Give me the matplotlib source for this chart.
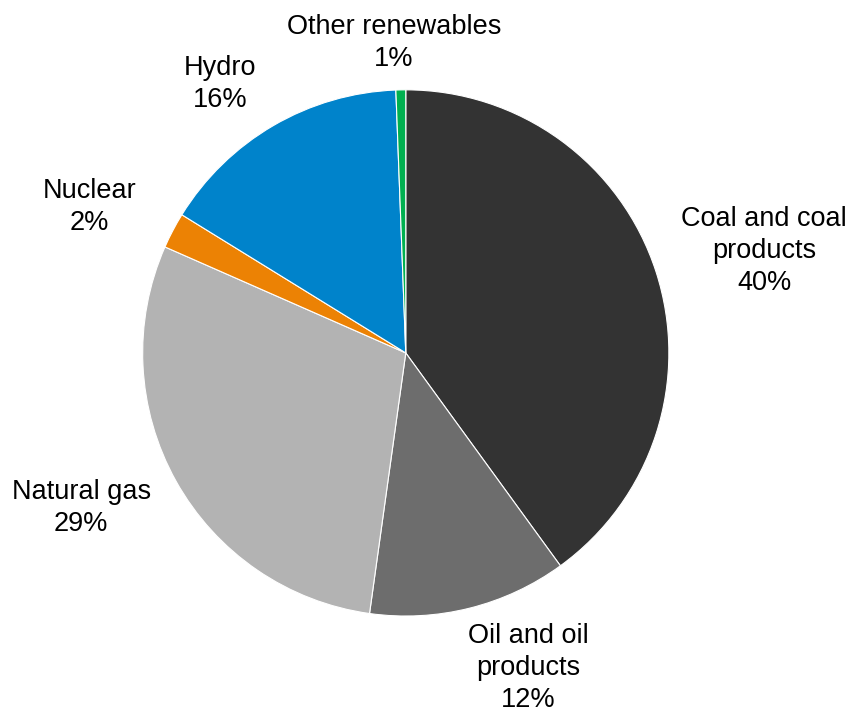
import matplotlib.pyplot as plt
import numpy as np

plt.rcParams['font.family'] = ['Liberation Sans', 'DejaVu Sans']

# Shares of the energy mix (%), clockwise from the top
sources = ['Coal and coal\nproducts', 'Oil and oil\nproducts', 'Natural gas',
           'Nuclear', 'Hydro', 'Other renewables']
shares = [40.0, 12.2, 29.4, 2.2, 15.6, 0.6]
pct_labels = ['40%', '12%', '29%', '2%', '16%', '1%']
colors = ['#333333', '#6d6d6d', '#b3b3b3', '#ec8204', '#0083cb', '#00b050']

# label placement: distance from centre (radii) and angle nudge from the wedge middle (deg)
label_dist = [1.416, 1.286, 1.368, 1.323, 1.243, 1.177]
label_nudge = [-2.2, 7.2, -3.6, 3.0, 4.4, 1.1]

fig = plt.figure(figsize=(8.48, 7.13), dpi=100)
ax = fig.add_axes([0.168, 0.136, 0.621, 0.738])

wedges, _ = ax.pie(shares, colors=colors, startangle=90, counterclock=False,
                   wedgeprops=dict(edgecolor='white', linewidth=0.8))

for w, name, pct, d, nudge in zip(wedges, sources, pct_labels, label_dist, label_nudge):
    mid = np.deg2rad((w.theta1 + w.theta2) / 2 + nudge)
    ax.text(d * np.cos(mid), d * np.sin(mid), name + '\n' + pct,
            ha='center', va='center', fontsize=19.5, linespacing=1.3,
            multialignment='center')

ax.set_xlim(-1, 1)
ax.set_ylim(-1, 1)
ax.set_aspect('equal')

fig.savefig('out.png', dpi=100)
